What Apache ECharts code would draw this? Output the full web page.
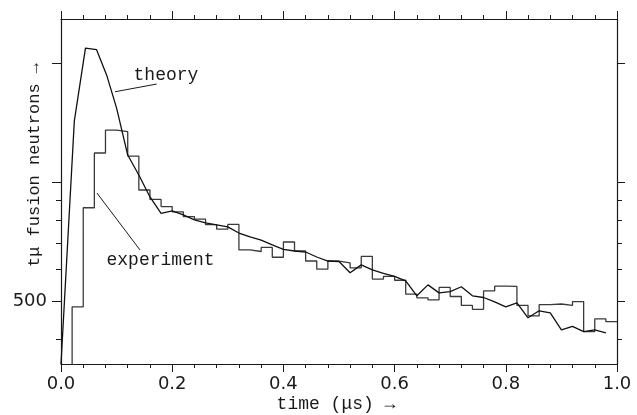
<!DOCTYPE html>
<html><head><meta charset="utf-8">
<script src="https://cdn.jsdelivr.net/npm/echarts@6/dist/echarts.min.js"></script>
<style>html,body{margin:0;padding:0;background:#fff}#c{width:637px;height:415px}</style>
</head><body><div id="c"></div>
<script>
// bin edges of the measured histogram (time in microseconds)
const binEdges = [0.00,0.02,0.04,0.06,0.08,0.10,0.12,0.14,0.16,0.18,
                  0.20,0.22,0.24,0.26,0.28,0.30,0.32,0.34,0.36,0.38,
                  0.40,0.42,0.44,0.46,0.48,0.50,0.52,0.54,0.56,0.58,
                  0.60,0.62,0.64,0.66,0.68,0.70,0.72,0.74,0.76,0.78,
                  0.80,0.82,0.84,0.86,0.88,0.90,0.92,0.94,0.96,0.98,1.00];
// measured counts per bin (50 bins)
const experiment = [300,483,861,1185,1355,1342,1164,955,904,867,
                    841,818,806,780,760,781,673,667,683,645,
                    705,669,631,602,631,624,606,648,568,577,
                    564,520,509,503,541,513,487,476,530,545,
                    544,487,458,489,491,487,498,418,450,443];
// theory curve sample times and values
const theoryTime = [0.000,0.024,0.044,0.064,0.082,0.100,0.120,0.140,0.160,0.180,
                    0.20,0.22,0.24,0.26,0.28,0.30,0.32,0.34,0.36,0.38,
                    0.40,0.42,0.44,0.46,0.48,0.50,0.52,0.54,0.56,0.58,
                    0.60,0.62,0.64,0.66,0.68,0.70,0.72,0.74,0.76,0.78,
                    0.80,0.82,0.84,0.86,0.88,0.90,0.92,0.94,0.96,0.98];
const theory = [346,1430,2185,2166,1869,1540,1171,1042,917,833,
                845,826,802,788,779,770,743,726,713,693,
                675,669,665,646,631,629,589,617,599,587,
                577,562,515,549,524,528,543,515,510,497,
                483,494,453,472,466,422,431,418,422,415];
// axis ticks
const yMajorTicks = [500, 1000, 2000];
const yMinorTicks = [400, 600, 700, 800, 900];
const yTickLabels = [500];
const xMin = 0, xMax = 1, xInterval = 0.2;
const yMin = 346, yMax = 2590;

const chart = echarts.init(document.getElementById('c'), null, {renderer: 'canvas'});
const ink = '#1a1a1a';
const sans = 'DejaVu Sans';
const grid = {left: 61, right: 20, top: 19, bottom: 51};

function xAx(pos, labels) {
  return {
    type: 'value', position: pos, min: xMin, max: xMax, interval: xInterval,
    axisLine: {show: true, onZero: false, lineStyle: {color: ink, width: 1.2}},
    axisTick: {show: true, inside: false, length: 8, lineStyle: {color: ink, width: 1}},
    minorTick: {show: true, splitNumber: 5, length: 4, lineStyle: {color: ink, width: 1}},
    splitLine: {show: false},
    axisLabel: {show: labels, margin: 11, fontFamily: sans, fontSize: 18, color: ink,
                formatter: v => v.toFixed(1)}
  };
}
function yAx(pos, ticks, len, labels, line) {
  return {
    type: 'log', logBase: 10, position: pos, min: yMin, max: yMax,
    axisLine: {show: line, onZero: false, lineStyle: {color: ink, width: 1.2}},
    axisTick: {show: true, inside: false, length: len, customValues: ticks, lineStyle: {color: ink, width: 1}},
    axisLabel: {show: labels, customValues: yTickLabels, margin: 14, fontFamily: sans, fontSize: 18, color: ink},
    splitLine: {show: false}, minorTick: {show: false}
  };
}

const option = {
  animation: false,
  backgroundColor: '#fff',
  grid: grid,
  xAxis: [xAx('bottom', true), xAx('top', false)],
  yAxis: [yAx('left', yMajorTicks, 9, true, true), yAx('left', yMinorTicks, 5, false, false),
          yAx('right', yMajorTicks, 8, false, true), yAx('right', yMinorTicks, 5, false, false)],
  series: [
    {
      name: 'experiment', type: 'line', step: 'end', showSymbol: false, symbol: 'none',
      xAxisIndex: 0, yAxisIndex: 0, clip: true,
      data: binEdges.map((t, i) => [t, experiment[Math.min(i, experiment.length - 1)]]),
      lineStyle: {color: '#3a3a3a', width: 1.3},
      markLine: {silent: true, symbol: 'none', label: {show: false},
        lineStyle: {color: ink, width: 1, type: 'solid'},
        data: [[{coord: [0.0647, 938]}, {coord: [0.1421, 673]}]]}
    },
    {
      name: 'theory', type: 'line', showSymbol: false, symbol: 'none',
      xAxisIndex: 0, yAxisIndex: 0, clip: true,
      data: theoryTime.map((t, i) => [t, theory[i]]),
      lineStyle: {color: '#111', width: 1.3},
      markLine: {silent: true, symbol: 'none', label: {show: false},
        lineStyle: {color: ink, width: 1, type: 'solid'},
        data: [[{coord: [0.0971, 1694]}, {coord: [0.1721, 1772]}]]}
    }
  ]
};
chart.setOption(option);

// annotation texts placed in data coordinates
const notes = [
  {text: 'theory', t: 0.1888, v: 1867},
  {text: 'experiment', t: 0.179, v: 635}
];
const mono = '"Liberation Mono", "DejaVu Sans Mono", monospace';
const graphics = notes.map(n => {
  const p = chart.convertToPixel({xAxisIndex: 0, yAxisIndex: 0}, [n.t, n.v]);
  return {type: 'text', x: p[0], y: p[1], style: {text: n.text, font: '18px ' + mono, fill: ink, align: 'center', verticalAlign: 'middle'}};
});
graphics.push({type: 'text', x: 336, y: 404, style: {
  text: 'time (μs) →', font: '18px ' + mono, fill: ink, align: 'center', verticalAlign: 'middle'}});
graphics.push({type: 'text', x: 34, y: 165, rotation: Math.PI / 2, style: {
  text: 'tμ fusion neutrons →', font: '17px ' + mono, fill: ink, align: 'center', verticalAlign: 'middle'}});
chart.setOption({graphic: graphics});
</script>
</body></html>
